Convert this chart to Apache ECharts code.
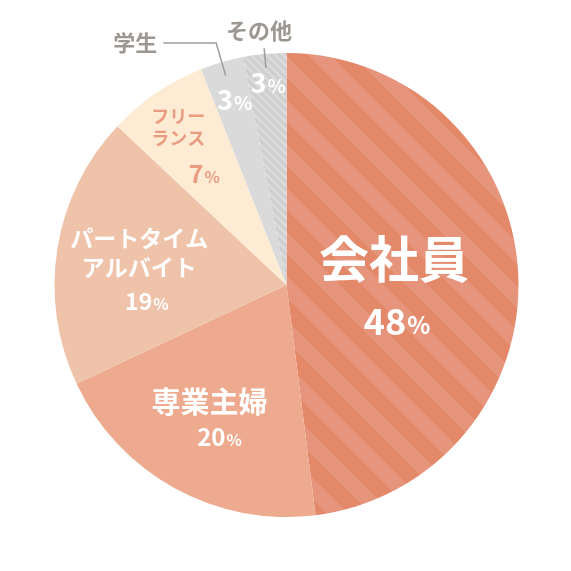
<!DOCTYPE html>
<html><head><meta charset="utf-8">
<script src="https://cdn.jsdelivr.net/npm/echarts@6/dist/echarts.min.js"></script>
<style>html,body{margin:0;padding:0;background:#fff}#c{width:571px;height:571px}</style>
</head><body><div id="c"></div>
<script>
// ---- data ----
const categories = ['会社員', '専業主婦', 'パートタイム\nアルバイト', 'フリー\nランス', '学生', 'その他'];
const values = [48, 20, 19, 7, 3, 3];
const percentLabels = ['48', '20', '19', '7', '3', '3'];

// ---- styles ----
const FONT = "'Noto Sans CJK JP','Noto Sans',sans-serif";
function stripes(size, width, c1, c2) {
  const cv = document.createElement('canvas');
  cv.width = size; cv.height = size;
  const ctx = cv.getContext('2d');
  ctx.fillStyle = c1; ctx.fillRect(0, 0, size, size);
  ctx.strokeStyle = c2; ctx.lineWidth = width;
  ctx.beginPath();
  [-size, 0, size].forEach(k => { ctx.moveTo(-size, -size + k); ctx.lineTo(2 * size, 2 * size + k); });
  ctx.stroke();
  return { image: cv, repeat: 'repeat' };
}
const colors = [
  stripes(44, 15.5, '#E4886A', '#E6957C'),
  '#EDAA8E',
  '#EFC3AA',
  '#FDEBD4',
  '#DADADA',
  stripes(8, 2.8, '#DADADA', '#CECECE')
];
const W = '#ffffff';
// lh: line heights [name line, number line]; nf/df/pf: font sizes; pad: shift of number line
const labelCfg = [
  { lh: [62, 62], nf: 50, df: 36, pf: 24, col: W, pad: 6 },
  { lh: [34, 34], nf: 29, df: 24, pf: 16, col: W, pad: 20 },
  { lh: [29.4, 39], nf: 23, df: 23, pf: 16, col: W, pad: 15 },
  { lh: [21.7, 49.9], nf: 18, df: 25, pf: 16, col: '#EA9C80', pad: 52 },
  { lh: [0, 30], nf: 0, df: 27, pf: 19, col: W, pad: 0 },
  { lh: [0, 30], nf: 0, df: 27, pf: 19, col: W, pad: 0 }
];
const labelOffsets = [[-11.3, 15.8], [-19.6, 31.4], [-29.6, 8.2], [-41.3, -29.5], [-18.6, -71.1], [-7.1, -84]];

function insideLabel(i) {
  const c = labelCfg[i];
  const num = '{n|' + percentLabels[i] + '}{p|%}';
  const fmt = c.nf ? '{a|' + categories[i] + '}\n' + num : num;
  const pt = Math.round(0.76 * (c.df - c.pf));
  return {
    show: true, position: 'inside', formatter: fmt,
    rich: {
      a: { fontFamily: FONT, fontWeight: 'bold', fontSize: c.nf, lineHeight: c.lh[0], color: c.col },
      n: { fontFamily: FONT, fontWeight: 'bold', fontSize: c.df, lineHeight: c.lh[1], color: c.col, padding: [0, 0, 0, c.pad] },
      p: { fontFamily: FONT, fontWeight: 'bold', fontSize: c.pf, color: c.col, padding: [pt, 0, 0, 1] }
    }
  };
}

const chart = echarts.init(document.getElementById('c'), null, { renderer: 'canvas' });
chart.setOption({
  animation: false,
  series: [
    {
      type: 'pie', center: [286.5, 285], radius: [0, 232], startAngle: 90, clockwise: true,
      avoidLabelOverlap: false, silent: true,
      itemStyle: { borderWidth: 0 },
      labelLine: { show: false },
      data: categories.map((n, i) => ({ name: n, value: values[i], itemStyle: { color: colors[i] }, label: insideLabel(i) })),
      labelLayout: function (p) {
        const o = labelOffsets[p.dataIndex];
        return { x: p.labelRect.x + p.labelRect.width / 2 + o[0], y: p.labelRect.y + p.labelRect.height / 2 + o[1] };
      }
    },
    {
      type: 'pie', center: [286.5, 285], radius: [0, 218], startAngle: 90, clockwise: true,
      avoidLabelOverlap: false, silent: true, z: 3,
      itemStyle: { color: 'rgba(0,0,0,0)', borderWidth: 0 },
      label: {
        position: 'outside',
        formatter: function (p) { return p.dataIndex === 5 ? '{t|' + p.name + '}\n{e| }' : '{t|' + p.name + '}'; },
        rich: {
          t: { color: '#9D9792', fontFamily: FONT, fontWeight: 'bold', fontSize: 22, lineHeight: 28 },
          e: { fontSize: 10, lineHeight: 34 }
        }
      },
      labelLine: { lineStyle: { color: '#A29C98', width: 1.5 } },
      data: categories.map((n, i) => {
        const d = { name: n, value: values[i], label: { show: false }, labelLine: { show: false } };
        if (i === 4) { d.label = { show: true, distanceToLabelLine: 6 }; d.labelLine = { show: true, length: 34, length2: 53 }; }
        if (i === 5) { d.label = { show: true, distanceToLabelLine: -28 }; d.labelLine = { show: true, length: 20, length2: 0 }; }
        return d;
      })
    }
  ]
});
</script>
</body></html>
